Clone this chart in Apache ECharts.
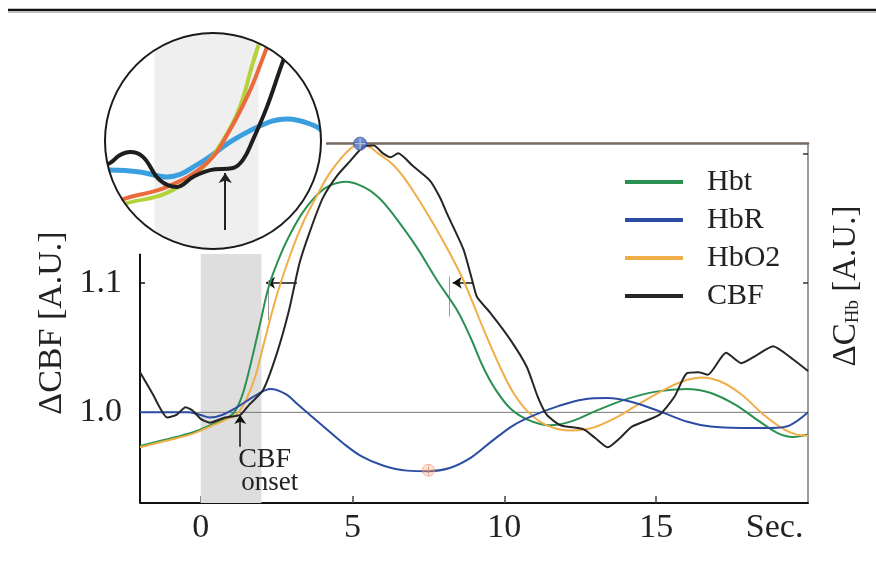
<!DOCTYPE html>
<html><head><meta charset="utf-8">
<script src="https://cdn.jsdelivr.net/npm/echarts@6/dist/echarts.min.js"></script>
<style>html,body{margin:0;padding:0;background:#fff}#c{width:876px;height:569px}</style>
</head><body><div id="c"></div>
<script>
// ---------- data ----------
const xTicks = [0, 5, 10, 15];
const xUnitPos = 18.9;
const xUnitLabel = 'Sec.';
const leftTicks = [1.0, 1.1];
const rightTicks = [1.1, 1.2];
const baseline = 1.0;
const stimulus = [0, 2];
const cbfOnset = 1.3;
const lagLevel = 1.1;
const riseLag = [3.17, 2.2];
const fallLag = [8.97, 8.3];

const hbt = [[-2,0.974],[-1.5,0.977],[-0.8,0.981],[-0.2,0.985],[0.3,0.99],[0.8,0.995],[1.1,1.0],[1.35,1.012],[1.6,1.033],[1.95,1.068],[2.25,1.098],[2.65,1.123],[3.0,1.14],[3.35,1.154],[3.75,1.166],[4.15,1.174],[4.8,1.178],[5.45,1.173],[5.9,1.165],[6.3,1.154],[7.1,1.128],[7.78,1.102],[8.44,1.079],[8.9,1.057],[9.3,1.035],[9.7,1.018],[10.2,1.003],[10.8,0.994],[11.5,0.99],[12.2,0.993],[13.0,1.001],[14.0,1.01],[15.0,1.016],[16.0,1.018],[16.8,1.015],[17.6,1.006],[18.4,0.993],[19.0,0.984],[19.5,0.981],[20,0.983]];
const hbr = [[-2,1.0],[-1.2,1.0],[-0.4,1.0],[0,0.998],[0.3,0.996],[0.7,0.998],[1.2,1.004],[1.8,1.013],[2.3,1.018],[2.8,1.014],[3.2,1.006],[3.6,0.998],[4.1,0.988],[4.7,0.976],[5.3,0.966],[6.0,0.959],[6.8,0.955],[7.5,0.9545],[8.2,0.957],[8.9,0.965],[9.6,0.978],[10.3,0.99],[11.0,0.998],[11.8,1.005],[12.6,1.01],[13.4,1.011],[14.2,1.008],[15.2,1.0],[16.0,0.993],[16.8,0.989],[17.8,0.988],[18.8,0.988],[19.4,0.99],[20,1.0]];
const hbo2 = [[-2,0.973],[-1.5,0.976],[-0.8,0.98],[-0.2,0.984],[0.3,0.989],[0.8,0.994],[1.2,0.999],[1.5,1.01],[1.8,1.028],[2.1,1.055],[2.5,1.09],[3.0,1.125],[3.4,1.148],[3.82,1.167],[4.2,1.183],[4.58,1.195],[4.9,1.203],[5.2,1.207],[5.55,1.205],[5.9,1.199],[6.3,1.192],[6.67,1.182],[7.05,1.169],[7.45,1.154],[7.85,1.138],[8.2,1.123],[8.55,1.107],[8.87,1.09],[9.3,1.065],[9.86,1.035],[10.3,1.015],[10.8,1.0],[11.4,0.99],[12.2,0.986],[12.9,0.988],[13.6,0.995],[14.4,1.006],[15.3,1.018],[16.0,1.025],[16.5,1.027],[17.1,1.024],[17.8,1.014],[18.5,0.999],[19.2,0.987],[19.6,0.983],[20,0.982]];
const cbf = [[-2,1.031],[-1.6,1.015],[-1.1,0.996],[-0.8,0.998],[-0.5,1.004],[-0.25,1.001],[0,0.995],[0.3,0.992],[0.8,0.996],[1.3,0.998],[1.6,1.006],[2.05,1.017],[2.5,1.045],[2.9,1.078],[3.25,1.115],[3.6,1.14],[4.03,1.166],[4.5,1.183],[4.92,1.194],[5.35,1.205],[5.7,1.206],[6.0,1.2],[6.25,1.197],[6.5,1.2],[7.0,1.19],[7.55,1.179],[7.9,1.165],[8.1,1.154],[8.65,1.126],[8.94,1.102],[9.1,1.089],[9.53,1.077],[10.2,1.056],[10.74,1.035],[11.1,1.012],[11.4,0.998],[11.85,0.99],[12.6,0.987],[13.0,0.98],[13.4,0.973],[13.8,0.98],[14.2,0.989],[15.1,0.998],[15.6,1.012],[16.0,1.03],[16.4,1.031],[16.7,1.029],[17.3,1.046],[17.8,1.038],[18.3,1.044],[18.85,1.051],[19.5,1.041],[20,1.032]];

const hbo2PeakMark = [5.25, 1.2075];
const hbrMinMark = [7.5, 0.9553];

// inset (magnified onset)
const insetHbr = [[-1.1,1.0],[-0.95,1.0003],[-0.38,0.9997],[0.14,0.998],[0.78,1.0027],[1.41,1.0103],[2.06,1.016],[2.45,1.0173],[2.95,1.0153],[3.15,1.013]];
const insetCbf = [[-1.1,1.0015],[-0.95,1.0027],[-0.76,1.0053],[-0.57,1.0063],[-0.32,1.0047],[0.0,0.997],[0.33,0.9947],[0.64,0.998],[0.97,1.0003],[1.41,1.001],[1.6,1.0037],[1.79,1.0103],[2.06,1.0213],[2.31,1.0337],[2.5,1.043]];
const insetHbt = [[-0.9,0.9877],[-0.63,0.9893],[0.14,0.9927],[0.78,1.0003],[1.22,1.0103],[1.54,1.0213],[1.79,1.036],[1.95,1.0445]];
const insetHbo2 = [[-0.9,0.9893],[-0.63,0.991],[0.14,0.9947],[0.91,1.0027],[1.35,1.0137],[1.74,1.027],[1.99,1.038],[2.15,1.0455]];

// ---------- chart ----------
const FF = '"Liberation Serif","Times New Roman",serif';
const C = {hbt:'#2a9152', hbr:'#2b4ea2', hbo2:'#f0ae48', cbf:'#262626'};
const chart = echarts.init(document.getElementById('c'));

const CX = 213, CY = 141, R = 108, M = 5;
// keyhole polygon: square around inset minus the circle
const maskPts = [[CX - R, CY], [CX - R - M, CY], [CX - R - M, CY - R - M], [CX + R + M, CY - R - M],
  [CX + R + M, CY + R + M], [CX - R - M, CY + R + M], [CX - R - M, CY]];
for (let i = 0; i <= 240; i++) {
  const th = Math.PI - (i / 240) * 2 * Math.PI;
  maskPts.push([CX + R * Math.cos(th), CY + R * Math.sin(th)]);
}

const seg = (a, b, style, arrow) => [
  {coord: a, symbol: 'none', lineStyle: style},
  {coord: b, symbol: arrow ? 'arrow' : 'none'}
];

const mainLine = (name, data, color, smooth) => ({
  name, type: 'line', data, xAxisIndex: 0, yAxisIndex: 0, showSymbol: false, symbol: 'none',
  smooth, lineStyle: {color, width: 2}, itemStyle: {color}, z: 6
});
const insetLine = (data, color, w) => ({
  type: 'line', data, xAxisIndex: 2, yAxisIndex: 2, showSymbol: false, symbol: 'none',
  smooth: 0.4, lineStyle: {color, width: w}, z: 2, silent: true
});

chart.setOption({
  animation: false,
  backgroundColor: '#fff',
  grid: [
    {left: 140, right: 68, top: 143, bottom: 66, outerBoundsMode: 'none'},
    {left: CX - R, top: CY - R, width: 2 * R, height: 2 * R, outerBoundsMode: 'none'}
  ],
  xAxis: [
    {type: 'value', gridIndex: 0, min: -2, max: 20, position: 'bottom',
     axisLine: {show: true, onZero: false, lineStyle: {color: '#111', width: 2}},
     axisTick: {show: true, inside: true, length: 7, customValues: xTicks, lineStyle: {color: '#444', width: 1.5}},
     axisLabel: {show: true, customValues: [...xTicks, xUnitPos], margin: 8,
       formatter: v => (v > 17 ? xUnitLabel : String(v)),
       fontFamily: FF, fontSize: 34, color: '#222'},
     splitLine: {show: false}},
    {type: 'value', gridIndex: 0, min: -2, max: 20, position: 'top',
     axisLine: {show: true, onZero: false, lineStyle: {color: '#776a63', width: 2.5}},
     axisTick: {show: false}, axisLabel: {show: false}, splitLine: {show: false}},
    {type: 'value', gridIndex: 1, min: -1.05, max: 3.1, show: false}
  ],
  yAxis: [
    {type: 'value', gridIndex: 0, min: 0.93, max: 1.208, position: 'left',
     name: 'ΔCBF [A.U.]', nameLocation: 'middle', nameRotate: 90, nameGap: 66,
     nameTextStyle: {fontFamily: FF, fontSize: 34, color: '#222'},
     axisLine: {show: false, onZero: false},
     axisTick: {show: true, inside: true, length: 5, customValues: [1.1], lineStyle: {color: '#111', width: 1.5}},
     axisLabel: {show: true, customValues: leftTicks, margin: 18, formatter: v => v.toFixed(1),
       fontFamily: FF, fontSize: 34, color: '#222'},
     splitLine: {show: false}},
    {type: 'value', gridIndex: 0, min: 0.93, max: 1.208, position: 'right',
     axisLine: {show: true, onZero: false, lineStyle: {color: '#7a7a7a', width: 1.5}},
     axisTick: {show: true, inside: true, length: 5, customValues: rightTicks, lineStyle: {color: '#333', width: 1.5}},
     axisLabel: {show: false}, splitLine: {show: false}},
    {type: 'value', gridIndex: 1, min: 0.974, max: 1.046, show: false}
  ],
  legend: {
    data: ['Hbt', 'HbR', 'HbO2', 'CBF'], orient: 'vertical', left: 620, top: 162,
    icon: 'rect', itemWidth: 58, itemHeight: 4, itemGap: 8, padding: 5,
    textStyle: {fontFamily: FF, fontSize: 30, color: '#222', lineHeight: 30, padding: [0, 0, 0, 19]}
  },
  graphic: [
    {type: 'line', shape: {x1: 8, y1: 10, x2: 876, y2: 10}, style: {stroke: '#111', lineWidth: 2.5}, z: 10, silent: true},
    {type: 'line', shape: {x1: 8, y1: 12.5, x2: 876, y2: 12.5}, style: {stroke: '#bbb', lineWidth: 1}, z: 10, silent: true},
    {type: 'circle', shape: {cx: CX, cy: CY, r: R}, style: {fill: '#fff'}, z: 1, silent: true},
    {type: 'polygon', shape: {points: maskPts}, style: {fill: '#fff'}, z: 3, silent: true},
    {type: 'circle', shape: {cx: CX, cy: CY, r: R}, style: {fill: 'none', stroke: '#1a1a1a', lineWidth: 2}, z: 4, silent: true},
    {type: 'text', x: 846, y: 286, rotation: Math.PI / 2, z: 10, silent: true,
     style: {text: '{a|ΔC}{b|Hb}{a| [A.U.]}', align: 'center', verticalAlign: 'middle',
       rich: {a: {fontFamily: FF, fontSize: 33, lineHeight: 34, fill: '#222'},
              b: {fontFamily: FF, fontSize: 19, lineHeight: 19, verticalAlign: 'bottom', fill: '#222'}}}}
  ],
  series: [
    {type: 'line', data: [[-2, baseline], [20, baseline]], xAxisIndex: 0, yAxisIndex: 0,
     showSymbol: false, symbol: 'none', lineStyle: {color: '#777', width: 1}, z: 5, clip: false, silent: true,
     markArea: {silent: true, itemStyle: {color: '#dedede'},
       data: [[{coord: [stimulus[0], 0.93]}, {coord: [stimulus[1], 1.1225]}]]},
     markLine: {silent: true, symbol: ['none', 'arrow'], symbolSize: 9, label: {show: false},
       data: [
         seg([-2, 0.93], [-2, 1.1225], {color: '#111', width: 2, type: 'solid'}, false),
         seg([riseLag[0], lagLevel], [riseLag[1] - 0.05, lagLevel], {color: '#111', width: 1.5, type: 'solid'}, true),
         seg([fallLag[0], lagLevel], [fallLag[1], lagLevel], {color: '#111', width: 1.5, type: 'solid'}, true),
         seg([riseLag[1] + 0.02, lagLevel + 0.002], [riseLag[1] + 0.02, lagLevel - 0.029], {color: '#999', width: 1, type: 'solid'}, false),
         seg([fallLag[1] - 0.1, lagLevel + 0.005], [fallLag[1] - 0.1, lagLevel - 0.026], {color: '#999', width: 1, type: 'solid'}, false),
         seg([cbfOnset, 0.9734], [cbfOnset, 0.998], {color: '#111', width: 1.5, type: 'solid'}, true)
       ]},
     markPoint: {silent: true,
       data: [{coord: [cbfOnset - 0.05, 0.9726], symbol: 'rect', symbolSize: 1, itemStyle: {color: 'rgba(0,0,0,0)'},
         label: {show: true, position: [0, 0], align: 'left', verticalAlign: 'top',
           formatter: '{a|CBF}\n{b|onset}',
           rich: {a: {fontFamily: FF, fontSize: 28, lineHeight: 25, color: '#222'},
                  b: {fontFamily: FF, fontSize: 27, lineHeight: 22, color: '#222', padding: [0, 0, 0, 3]}}}}]}},
    mainLine('Hbt', hbt, C.hbt, 0.35),
    mainLine('HbO2', hbo2, C.hbo2, 0.35),
    mainLine('HbR', hbr, C.hbr, 0.35),
    mainLine('CBF', cbf, C.cbf, 0.2),
    {type: 'scatter', xAxisIndex: 0, yAxisIndex: 0, data: [hbo2PeakMark], symbol: 'circle', symbolSize: 13,
     itemStyle: {color: '#4e6fc4', borderColor: '#3a58a6', borderWidth: 1}, z: 8, clip: false, silent: true},
    {type: 'scatter', xAxisIndex: 0, yAxisIndex: 0, data: [hbo2PeakMark], symbol: 'path://M0,5L10,5M5,0L5,10', symbolSize: 11,
     itemStyle: {color: 'none', borderColor: '#c4d3f2', borderWidth: 1.2}, z: 9, clip: false, silent: true},
    {type: 'scatter', xAxisIndex: 0, yAxisIndex: 0, data: [hbrMinMark], symbol: 'circle', symbolSize: 12,
     itemStyle: {color: 'rgba(245,170,130,0.35)', borderColor: '#f0a080', borderWidth: 1}, z: 8, clip: false, silent: true},
    {type: 'scatter', xAxisIndex: 0, yAxisIndex: 0, data: [hbrMinMark], symbol: 'path://M0,5L10,5M5,0L5,10', symbolSize: 10,
     itemStyle: {color: 'none', borderColor: '#e8906c', borderWidth: 1}, z: 9, clip: false, silent: true},
    Object.assign(insetLine(insetHbr, '#3b9ede', 5), {
      markArea: {silent: true, itemStyle: {color: '#efefef'}, data: [[{xAxis: stimulus[0] - 0.1}, {xAxis: stimulus[1] - 0.1}]]},
      markLine: {silent: true, symbol: ['none', 'arrow'], symbolSize: 10, label: {show: false},
        data: [seg([cbfOnset - 0.04, 0.9803], [cbfOnset - 0.04, 0.9993], {color: '#222', width: 2, type: 'solid'}, true)]}
    }),
    insetLine(insetHbt, '#b4d23a', 4),
    insetLine(insetHbo2, '#ea6a3e', 4),
    insetLine(insetCbf, '#1e1e1e', 4)
  ]
});
</script>
</body></html>
